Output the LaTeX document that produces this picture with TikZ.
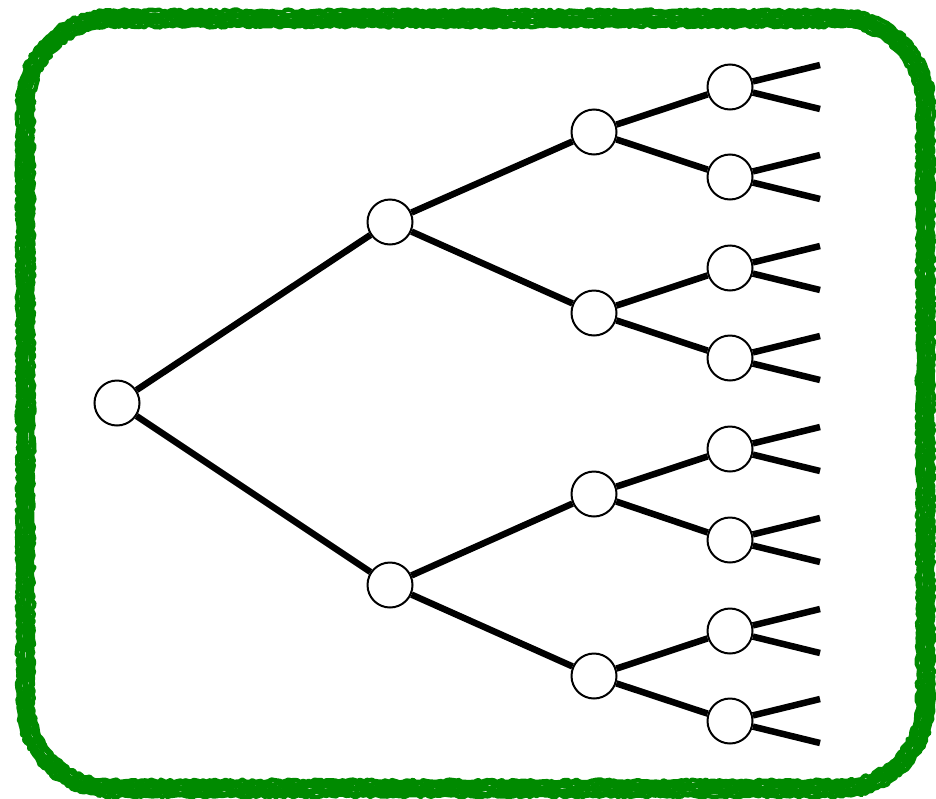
\documentclass[tikz,border=0pt]{standalone}
\usetikzlibrary{decorations.pathmorphing}
\definecolor{framegreen}{RGB}{0,138,0}
\begin{document}
\begin{tikzpicture}[x=1pt,y=-1pt,
  vert/.style={circle,draw=black,line width=2pt,fill=white,minimum size=45pt,inner sep=0pt},
  edge/.style={line width=6.5pt,black},
  chalk/.style={framegreen,line width=4.5pt,line cap=round,line join=round,
    decorate,decoration={random steps,segment length=3pt,amplitude=1.4pt}}]
\useasboundingbox (0,0) rectangle (936,798);
\pgfmathsetseed{7}
% rough hand-drawn frame built from several jittered rounded strokes
\foreach \d in {-8,-5,-2,1,4,7}{
  \pgfmathsetmacro{\xa}{26+\d}\pgfmathsetmacro{\xb}{925-\d}
  \pgfmathsetmacro{\ya}{19+\d}\pgfmathsetmacro{\yb}{788-\d}
  \pgfmathsetmacro{\R}{85-\d}\pgfmathsetmacro{\k}{0.45*\R}
  \draw[chalk] (\xa+\R,\ya) -- (\xb-\R,\ya)
    .. controls (\xb-\k,\ya) and (\xb,\ya+\k) .. (\xb,\ya+\R)
    -- (\xb,\yb-\R)
    .. controls (\xb,\yb-\k) and (\xb-\k,\yb) .. (\xb-\R,\yb)
    -- (\xa+\R,\yb)
    .. controls (\xa+\k,\yb) and (\xa,\yb-\k) .. (\xa,\yb-\R)
    -- (\xa,\ya+\R)
    .. controls (\xa,\ya+\k) and (\xa+\k,\ya) .. (\xa+\R,\ya) -- cycle;
}
% tree nodes
\node[vert] (r) at (117,403) {};
\node[vert] (a) at (390,222) {};
\node[vert] (b) at (390,585) {};
\node[vert] (aa) at (594,132) {};
\node[vert] (ab) at (594,313) {};
\node[vert] (ba) at (594,494) {};
\node[vert] (bb) at (594,676) {};
\foreach \n/\y in {1/87,2/177,3/268,4/358,5/449,6/540,7/631,8/721}{
  \node[vert] (l\n) at (730,\y) {};
  \coordinate (u\n) at (820,\y-22);
  \coordinate (w\n) at (820,\y+22);
}
% branches
\draw[edge] (r) -- (a); \draw[edge] (r) -- (b);
\draw[edge] (a) -- (aa); \draw[edge] (a) -- (ab);
\draw[edge] (b) -- (ba); \draw[edge] (b) -- (bb);
\draw[edge] (aa) -- (l1); \draw[edge] (aa) -- (l2);
\draw[edge] (ab) -- (l3); \draw[edge] (ab) -- (l4);
\draw[edge] (ba) -- (l5); \draw[edge] (ba) -- (l6);
\draw[edge] (bb) -- (l7); \draw[edge] (bb) -- (l8);
\foreach \n in {1,...,8}{
  \draw[edge] (l\n) -- (u\n);
  \draw[edge] (l\n) -- (w\n);
}
\end{tikzpicture}
\end{document}
